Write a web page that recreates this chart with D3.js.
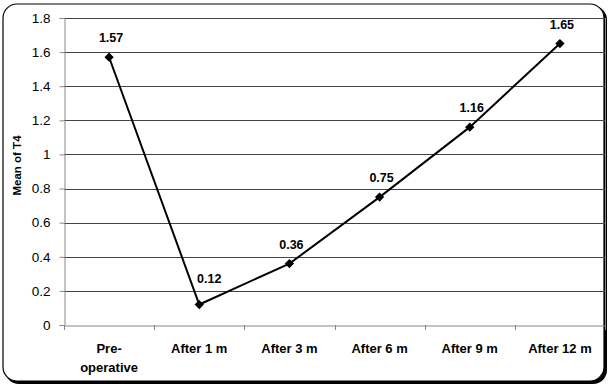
<!DOCTYPE html>
<html><head><meta charset="utf-8">
<script src="https://cdn.jsdelivr.net/npm/d3@7"></script>
<style>body{margin:0;background:#fff;}svg{display:block;font-family:"Liberation Sans",Arial,sans-serif;}</style>
</head><body><svg id="c" width="610" height="387"></svg>
<script>
const categories = [["Pre-","operative"],["After 1 m"],["After 3 m"],["After 6 m"],["After 9 m"],["After 12 m"]];
const values = [1.57, 0.12, 0.36, 0.75, 1.16, 1.65];
const yTicks = [0, 0.2, 0.4, 0.6, 0.8, 1, 1.2, 1.4, 1.6, 1.8];
const yTitle = "Mean of T4";

const svg = d3.select("#c");
// chart border with shadow
svg.append("rect").attr("x",5).attr("y",6).attr("width",602).attr("height",378).attr("rx",14).attr("fill","#000");
svg.append("rect").attr("x",3).attr("y",4).attr("width",601).attr("height",377).attr("rx",14).attr("fill","#fff").attr("stroke","#000").attr("stroke-width",1.2);

const L=64, R=605, T=18, B=325;
const x = d3.scaleBand().domain(d3.range(categories.length)).range([L,R]);
const y = d3.scaleLinear().domain([0,1.8]).range([B,T]);

// gridlines
svg.append("g").selectAll("line").data(yTicks.filter(d=>d>0)).join("line")
  .attr("x1",L).attr("x2",R).attr("y1",d=>Math.round(y(d))+0.5).attr("y2",d=>Math.round(y(d))+0.5)
  .attr("stroke","#444").attr("stroke-width",1);
// plot border right
svg.append("line").attr("x1",R+0.5).attr("x2",R+0.5).attr("y1",T).attr("y2",B).attr("stroke","#888");

// y axis
const ya = svg.append("g").attr("transform",`translate(${L+0.5},0)`)
  .call(d3.axisLeft(y).tickValues(yTicks).tickSize(5).tickFormat(d=>d3.format("")(d)));
ya.select(".domain").attr("stroke","#888");
ya.selectAll(".tick line").attr("stroke","#888");
ya.selectAll("text").attr("font-size","13.5px").attr("fill","#000").attr("font-family","Liberation Sans, Arial, sans-serif").attr("dx","-6");

// x axis
const xa = svg.append("g").attr("transform",`translate(0,${B+0.5})`)
  .call(d3.axisBottom(x).tickSize(0).tickFormat(""));
xa.select(".domain").attr("stroke","#888");
const bounds = d3.range(categories.length+1).map(i=>L+i*x.step());
svg.append("g").selectAll("line").data(bounds).join("line")
  .attr("x1",d=>Math.round(d)+0.5).attr("x2",d=>Math.round(d)+0.5).attr("y1",B).attr("y2",B+5).attr("stroke","#888");
svg.append("g").selectAll("text").data(categories).join("text")
  .attr("text-anchor","middle").attr("font-weight","bold").attr("font-size","13px")
  .attr("transform",(d,i)=>`translate(${x(i)+x.bandwidth()/2},${B+28})`)
  .each(function(d){ d3.select(this).selectAll("tspan").data(d).join("tspan").attr("x",0).attr("dy",(t,j)=>j?19:0).text(t=>t); });

// y title
svg.append("text").attr("transform",`translate(21,${(T+B)/2-6}) rotate(-90)`).attr("text-anchor","middle")
  .attr("font-weight","bold").attr("font-size","11.5px").text(yTitle);

// line
const cx = i=>x(i)+x.bandwidth()/2;
svg.append("path").datum(values).attr("fill","none").attr("stroke","#000").attr("stroke-width",2)
  .attr("d",d3.line().x((d,i)=>cx(i)).y(d=>y(d)));
svg.append("g").selectAll("path").data(values).join("path")
  .attr("d",d3.symbol().type(d3.symbolDiamond2).size(55))
  .attr("transform",(d,i)=>`translate(${cx(i)},${y(d)})`).attr("fill","#000");
svg.append("g").selectAll("text").data(values).join("text")
  .attr("x",(d,i)=>cx(i)+(i===1?10:2)).attr("y",(d,i)=>y(d)-(i===1?22:15))
  .attr("text-anchor","middle").attr("font-weight","bold").attr("font-size","12.5px").text(d=>d3.format(".2f")(d));
</script></body></html>
